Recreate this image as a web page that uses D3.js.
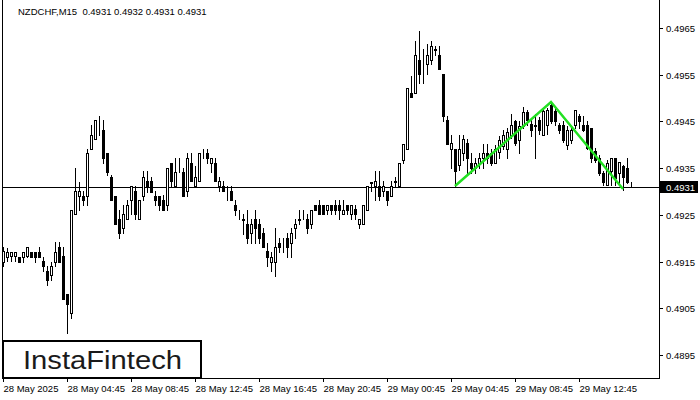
<!DOCTYPE html>
<html><head><meta charset="utf-8">
<script src="https://cdn.jsdelivr.net/npm/d3@7/dist/d3.min.js"></script>
<style>
body{margin:0;background:#fff}
svg{display:block}
text{font-family:"Liberation Sans",Arial,sans-serif}
</style>
</head><body>
<svg id="c" width="700" height="400"></svg>
<script>
const symbol = "NZDCHF,M15";
const lastOHLC = ["0.4931", "0.4932", "0.4931", "0.4931"];
const timeLabels = ["28 May 2025","28 May 04:45","28 May 08:45","28 May 12:45","28 May 16:45",
  "28 May 20:45","29 May 00:45","29 May 04:45","29 May 08:45","29 May 12:45"];
const timeTickIdx = [0,16,32,48,64,80,96,112,128,144];
const priceTicks = [0.4895,0.4905,0.4915,0.4925,0.4935,0.4945,0.4955,0.4965];

const openP = [
0.49150,0.49160,0.49161,0.49161,0.49160,0.49160,0.49161,0.49170,0.49170,0.49170,
0.49152,0.49130,0.49121,0.49150,0.49181,0.49161,0.49080,0.49040,0.49252,0.49290,
0.49291,0.49290,0.49391,0.49412,0.49443,0.49432,0.49382,0.49330,0.49291,0.49242,
0.49222,0.49242,0.49281,0.49302,0.49242,0.49291,0.49322,0.49322,0.49291,0.49291,
0.49282,0.49272,0.49361,0.49312,0.49350,0.49341,0.49302,0.49361,0.49312,0.49322,
0.49391,0.49382,0.49361,0.49361,0.49312,0.49312,0.49291,0.49302,0.49272,0.49252,
0.49241,0.49231,0.49211,0.49241,0.49231,0.49211,0.49172,0.49150,0.49150,0.49190,
0.49190,0.49200,0.49190,0.49222,0.49241,0.49252,0.49241,0.49231,0.49272,0.49272,
0.49272,0.49261,0.49272,0.49272,0.49272,0.49252,0.49272,0.49252,0.49263,0.49231,
0.49231,0.49261,0.49320,0.49312,0.49311,0.49302,0.49302,0.49291,0.49322,0.49311,
0.49368,0.49391,0.49511,0.49511,0.49582,0.49563,0.49573,0.49582,0.49604,0.49593,
0.49552,0.49454,0.49391,0.49391,0.49357,0.49382,0.49404,0.49362,0.49350,0.49359,
0.49372,0.49382,0.49382,0.49361,0.49385,0.49398,0.49390,0.49422,0.49450,0.49411,
0.49440,0.49471,0.49445,0.49443,0.49452,0.49422,0.49443,0.49486,0.49472,0.49442,
0.49442,0.49400,0.49411,0.49443,0.49461,0.49443,0.49443,0.49436,0.49386,0.49372,
0.49340,0.49313,0.49343,0.49372,0.49340,0.49354,0.49350,0.49310];
const highP = [
0.49182,0.49180,0.49170,0.49170,0.49160,0.49170,0.49181,0.49170,0.49170,0.49181,
0.49160,0.49140,0.49150,0.49191,0.49191,0.49181,0.49080,0.49261,0.49350,0.49320,
0.49302,0.49390,0.49443,0.49452,0.49462,0.49452,0.49382,0.49336,0.49291,0.49261,
0.49272,0.49282,0.49311,0.49311,0.49282,0.49343,0.49343,0.49331,0.49302,0.49291,
0.49293,0.49350,0.49361,0.49372,0.49372,0.49350,0.49382,0.49382,0.49354,0.49382,
0.49391,0.49391,0.49372,0.49372,0.49331,0.49322,0.49312,0.49312,0.49282,0.49261,
0.49252,0.49261,0.49241,0.49261,0.49241,0.49222,0.49190,0.49170,0.49222,0.49200,
0.49200,0.49211,0.49222,0.49241,0.49261,0.49261,0.49252,0.49261,0.49272,0.49281,
0.49272,0.49272,0.49272,0.49281,0.49281,0.49282,0.49272,0.49272,0.49272,0.49241,
0.49272,0.49312,0.49320,0.49343,0.49343,0.49322,0.49302,0.49322,0.49332,0.49361,
0.49402,0.49522,0.49547,0.49622,0.49643,0.49604,0.49615,0.49622,0.49612,0.49612,
0.49552,0.49461,0.49422,0.49391,0.49422,0.49422,0.49412,0.49382,0.49372,0.49382,
0.49402,0.49402,0.49390,0.49400,0.49418,0.49432,0.49437,0.49465,0.49454,0.49450,
0.49480,0.49475,0.49454,0.49465,0.49459,0.49475,0.49479,0.49491,0.49479,0.49447,
0.49450,0.49440,0.49440,0.49475,0.49465,0.49461,0.49450,0.49436,0.49393,0.49379,
0.49343,0.49368,0.49372,0.49372,0.49364,0.49357,0.49372,0.49320];
const lowP = [
0.49140,0.49152,0.49152,0.49152,0.49150,0.49150,0.49160,0.49160,0.49150,0.49160,
0.49130,0.49100,0.49111,0.49140,0.49150,0.49070,0.48998,0.49029,0.49252,0.49261,
0.49272,0.49272,0.49391,0.49412,0.49422,0.49361,0.49336,0.49281,0.49230,0.49200,
0.49211,0.49242,0.49252,0.49242,0.49242,0.49282,0.49300,0.49300,0.49272,0.49261,
0.49261,0.49261,0.49312,0.49312,0.49341,0.49291,0.49291,0.49322,0.49312,0.49322,
0.49372,0.49361,0.49341,0.49322,0.49302,0.49302,0.49281,0.49281,0.49250,0.49241,
0.49210,0.49190,0.49190,0.49190,0.49190,0.49181,0.49140,0.49129,0.49120,0.49170,
0.49170,0.49160,0.49160,0.49200,0.49231,0.49241,0.49211,0.49222,0.49261,0.49252,
0.49252,0.49252,0.49252,0.49252,0.49241,0.49252,0.49252,0.49241,0.49241,0.49222,
0.49231,0.49261,0.49302,0.49282,0.49281,0.49291,0.49272,0.49291,0.49312,0.49311,
0.49361,0.49391,0.49503,0.49511,0.49533,0.49533,0.49552,0.49572,0.49593,0.49563,
0.49450,0.49402,0.49350,0.49311,0.49347,0.49368,0.49340,0.49340,0.49340,0.49350,
0.49350,0.49361,0.49357,0.49361,0.49372,0.49390,0.49372,0.49415,0.49400,0.49382,
0.49437,0.49443,0.49418,0.49372,0.49423,0.49420,0.49423,0.49447,0.49443,0.49425,
0.49407,0.49390,0.49404,0.49436,0.49436,0.49429,0.49390,0.49364,0.49364,0.49336,
0.49313,0.49313,0.49313,0.49313,0.49313,0.49304,0.49318,0.49310];
const closeP = [
0.49172,0.49170,0.49170,0.49170,0.49150,0.49170,0.49181,0.49160,0.49160,0.49160,
0.49140,0.49111,0.49140,0.49170,0.49150,0.49070,0.49059,0.49261,0.49302,0.49302,
0.49281,0.49382,0.49422,0.49452,0.49442,0.49372,0.49341,0.49281,0.49230,0.49211,
0.49252,0.49272,0.49311,0.49252,0.49282,0.49331,0.49312,0.49300,0.49281,0.49272,
0.49261,0.49350,0.49322,0.49341,0.49351,0.49291,0.49372,0.49322,0.49331,0.49382,
0.49390,0.49372,0.49372,0.49322,0.49322,0.49302,0.49290,0.49281,0.49261,0.49251,
0.49240,0.49200,0.49231,0.49222,0.49200,0.49181,0.49160,0.49160,0.49181,0.49181,
0.49189,0.49181,0.49211,0.49231,0.49240,0.49251,0.49222,0.49261,0.49261,0.49252,
0.49252,0.49272,0.49261,0.49261,0.49260,0.49261,0.49261,0.49272,0.49252,0.49241,
0.49272,0.49312,0.49319,0.49322,0.49291,0.49311,0.49282,0.49312,0.49321,0.49361,
0.49402,0.49522,0.49503,0.49593,0.49552,0.49562,0.49593,0.49612,0.49603,0.49563,
0.49461,0.49402,0.49404,0.49343,0.49391,0.49412,0.49372,0.49350,0.49361,0.49372,
0.49382,0.49372,0.49361,0.49391,0.49411,0.49422,0.49428,0.49443,0.49404,0.49440,
0.49471,0.49454,0.49432,0.49441,0.49432,0.49472,0.49475,0.49450,0.49450,0.49431,
0.49411,0.49432,0.49432,0.49475,0.49450,0.49432,0.49393,0.49372,0.49368,0.49340,
0.49320,0.49361,0.49372,0.49329,0.49364,0.49332,0.49320,0.49310];

const currentPrice = 0.4931;
const patternIdx = [113, 137, 155];
const patternPrice = [0.49311, 0.49492, 0.49305];
const logoText = "InstaFintech";

const W = 700, H = 400;
const plotL = 2, plotR = 659, plotB = 378;
const svg = d3.select("#c");
svg.append("rect").attr("width", W).attr("height", H).attr("fill", "#fff");

const x = d3.scaleLinear().domain([0, openP.length - 1]).rangeRound([3, 631]);
const y = d3.scaleLinear().domain([0.4895, 0.4965]).rangeRound([355, 28]);

const bars = d3.range(openP.length).map(i => ({i, o: openP[i], h: highP[i], l: lowP[i], c: closeP[i]}));

// current price horizontal line
svg.append("line")
  .attr("x1", plotL).attr("x2", plotR)
  .attr("y1", y(currentPrice) + 0.5).attr("y2", y(currentPrice) + 0.5)
  .attr("stroke", "#000").attr("stroke-width", 1);

const g = svg.append("g").attr("shape-rendering", "crispEdges");
// wicks
g.selectAll("line.w").data(bars).join("line").attr("class", "w")
  .attr("x1", d => x(d.i) + 0.5).attr("x2", d => x(d.i) + 0.5)
  .attr("y1", d => y(d.h)).attr("y2", d => y(d.l) + 1)
  .attr("stroke", "#000");
// bodies
g.selectAll("rect.b").data(bars).join("rect").attr("class", "b")
  .attr("x", d => x(d.i) - 0.5)
  .attr("y", d => y(Math.max(d.o, d.c)) + 0.5)
  .attr("width", 2)
  .attr("height", d => Math.max(0, y(Math.min(d.o, d.c)) - y(Math.max(d.o, d.c))))
  .attr("fill", d => d.c >= d.o ? "#fff" : "#000")
  .attr("stroke", "#000").attr("stroke-width", 1);

// pattern line
svg.append("path")
  .datum(patternIdx.map((v, k) => [x(v), y(patternPrice[k])]))
  .attr("d", d3.line())
  .attr("fill", "none").attr("stroke", "#22e022").attr("stroke-width", 2.5)
  .attr("stroke-linejoin", "miter");

// frame
svg.append("path")
  .attr("d", `M${plotL + 0.5},0 V${plotB + 0.5} H${plotR + 0.5} V0`)
  .attr("fill", "none").attr("stroke", "#000").attr("stroke-width", 1)
  .attr("shape-rendering", "crispEdges");

// right price axis
const ya = svg.append("g").attr("transform", `translate(${plotR},0)`)
  .call(d3.axisRight(y).tickValues(priceTicks).tickFormat(d3.format(".4f")).tickSize(4).tickPadding(3));
ya.select(".domain").remove();
ya.selectAll("text").attr("font-size", "9.5px").attr("font-family", "Liberation Sans, Arial, sans-serif").attr("fill", "#000");
ya.selectAll("line").attr("stroke", "#000");

// bottom time axis
const xa = svg.append("g").attr("transform", `translate(0,${plotB})`)
  .call(d3.axisBottom(x).tickValues(timeTickIdx).tickFormat((d, k) => timeLabels[k]).tickSize(4).tickPadding(3));
xa.select(".domain").remove();
xa.selectAll("text").attr("font-size", "9.5px").attr("font-family", "Liberation Sans, Arial, sans-serif")
  .attr("text-anchor", "start").attr("x", 0).attr("fill", "#000");
xa.selectAll("line").attr("stroke", "#000");

// current price label
const cy = y(currentPrice);
svg.append("rect").attr("x", plotR + 1).attr("y", cy - 6).attr("width", 38).attr("height", 12).attr("fill", "#000");
svg.append("text").attr("x", plotR + 7).attr("y", cy + 3.5)
  .attr("font-size", "9.5px").attr("fill", "#fff").text(d3.format(".4f")(currentPrice));

// title
svg.append("text").attr("x", 18).attr("y", 15).attr("font-size", "9.5px").attr("fill", "#000")
  .attr("xml:space", "preserve").text(symbol + "  " + lastOHLC.join(" "));

// logo
svg.append("rect").attr("x", 3).attr("y", 341).attr("width", 198).attr("height", 37)
  .attr("fill", "#fff").attr("stroke", "#000").attr("stroke-width", 2);
svg.append("text").attr("x", 23).attr("y", 369)
  .attr("font-family", "'Open Sans', 'Noto Sans', sans-serif").attr("font-weight", 500)
  .attr("font-size", "26px").attr("fill", "#1a1a1a")
  .attr("textLength", 159).attr("lengthAdjust", "spacingAndGlyphs")
  .text(logoText);
</script>
</body></html>
